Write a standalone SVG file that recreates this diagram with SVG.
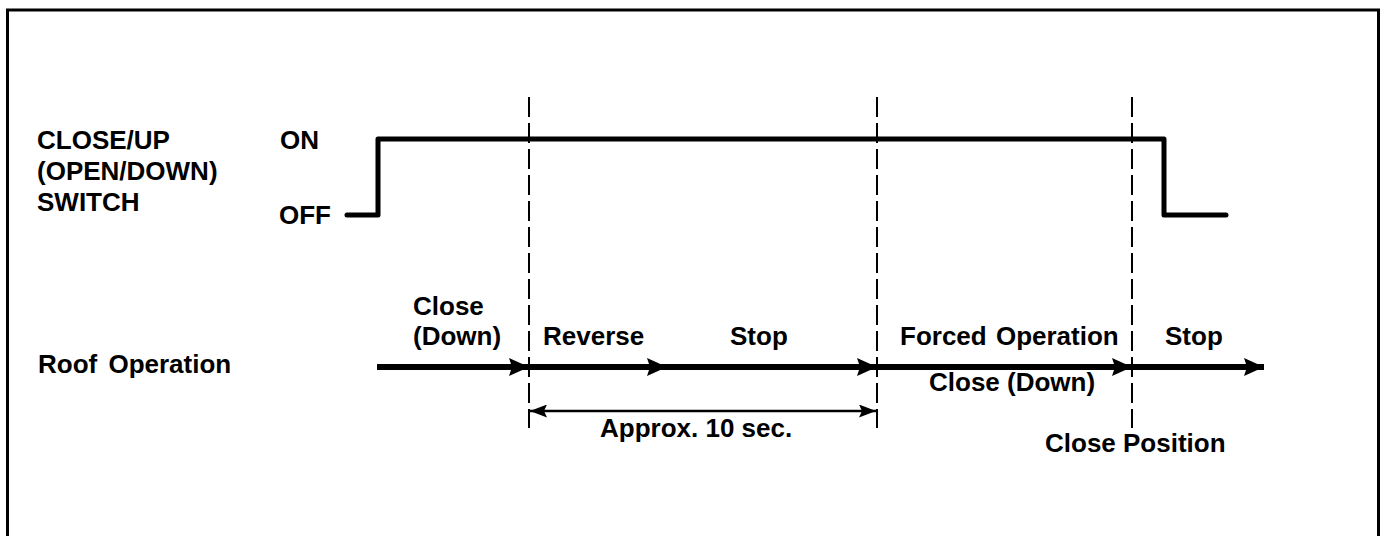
<svg xmlns="http://www.w3.org/2000/svg" width="1384" height="536" viewBox="0 0 1384 536">
<defs>
<style>
text{font-family:"Liberation Sans",Arial,sans-serif;font-weight:bold;font-size:26px;fill:#000}
.dash{stroke:#000;stroke-width:2;stroke-dasharray:20 6;fill:none}
.sig{stroke:#000;stroke-width:5;fill:none;stroke-linecap:round;stroke-linejoin:round}
.roof{stroke:#000;stroke-width:6;fill:none;stroke-linecap:butt}
.dim{stroke:#000;stroke-width:2.4;fill:none}
</style>
<marker id="ah" viewBox="0 0 20 18" refX="20" refY="9" markerWidth="20" markerHeight="18" markerUnits="userSpaceOnUse" orient="auto">
<path d="M0,0 L20,9 L0,18 L3,9 Z" fill="#000"/>
</marker>
<marker id="dh" viewBox="0 0 17 13" refX="17" refY="6.5" markerWidth="17" markerHeight="13" markerUnits="userSpaceOnUse" orient="auto-start-reverse">
<path d="M0,0 L17,6.5 L0,13 L3,6.5 Z" fill="#000"/>
</marker>
</defs>
<rect x="0" y="0" width="1384" height="536" fill="#fff"/>
<rect x="7.5" y="10" width="1371" height="540" fill="none" stroke="#000" stroke-width="3"/>
<g id="labels">
<text x="37" y="149">CLOSE/UP</text>
<text x="37" y="180">(OPEN/DOWN)</text>
<text x="37" y="211">SWITCH</text>
<text x="280" y="149">ON</text>
<text x="279" y="224">OFF</text>
<text x="38" y="373" word-spacing="4">Roof Operation</text>
</g>
<g id="connectors">
<line class="dash" x1="529" y1="97" x2="529" y2="428"/>
<line class="dash" x1="877" y1="97" x2="877" y2="428"/>
<line class="dash" x1="1132" y1="97" x2="1132" y2="428"/>
<polyline class="sig" points="347,215 378,215 378,139 1164,139 1164,215 1226,215"/>
<line class="roof" x1="377" y1="367" x2="529" y2="367" marker-end="url(#ah)" stroke-linecap="round"/>
<line class="roof" x1="529" y1="367" x2="667" y2="367" marker-end="url(#ah)"/>
<line class="roof" x1="665" y1="367" x2="877" y2="367" marker-end="url(#ah)"/>
<line class="roof" x1="877" y1="367" x2="1132" y2="367" marker-end="url(#ah)"/>
<line class="roof" x1="1132" y1="367" x2="1264" y2="367" marker-end="url(#ah)"/>
<line class="dim" x1="530" y1="411" x2="876" y2="411" marker-start="url(#dh)" marker-end="url(#dh)"/>
</g>
<g id="phases">
<text x="413" y="315">Close</text>
<text x="413" y="345">(Down)</text>
<text x="543" y="345">Reverse</text>
<text x="730" y="345">Stop</text>
<text x="900" y="345" word-spacing="2">Forced Operation</text>
<text x="1165" y="345">Stop</text>
<text x="929" y="391">Close (Down)</text>
<text x="600" y="437">Approx. 10 sec.</text>
<text x="1045" y="452">Close Position</text>
</g>
</svg>
